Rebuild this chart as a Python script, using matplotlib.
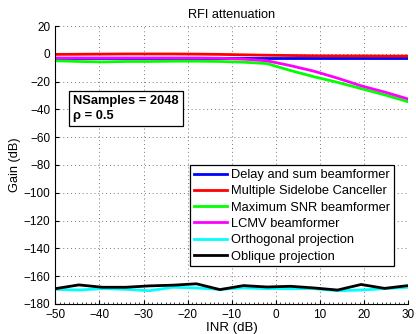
import matplotlib
matplotlib.use("Agg")
import matplotlib.pyplot as plt
from matplotlib.ticker import MultipleLocator

plt.rcParams['font.family'] = ['Liberation Sans', 'DejaVu Sans']

inr = [-50, -44.67, -39.33, -34, -28.67, -23.33, -18, -12.67, -7.33, -2,
       3.33, 8.67, 14, 19.33, 24.67, 30]
delay_sum = [-3.0] * 16
msc = [-0.4, -0.3, -0.2, -0.1, -0.1, -0.1, -0.2, -0.4, -0.7, -1.0,
       -1.2, -1.4, -1.5, -1.5, -1.6, -1.6]
max_snr = [-5.0, -5.5, -5.8, -5.5, -5.5, -5.3, -5.3, -5.5, -6.0, -7.0,
           -12.0, -16.5, -20.5, -25.0, -29.5, -34.5]
lcmv = [-3.0, -3.0, -3.0, -3.0, -3.0, -3.0, -3.0, -3.2, -3.8, -5.0,
        -8.5, -12.5, -17.5, -23.0, -27.5, -32.5]
orth = [-169.5, -170.0, -169.0, -169.5, -170.5, -168.0, -168.5, -169.5, -168.5, -169.0,
        -169.0, -169.0, -170.5, -170.0, -169.0, -168.0]
oblique = [-169.0, -166.3, -168.0, -168.0, -167.0, -166.5, -165.5, -169.7, -166.8, -167.8,
           -167.3, -168.5, -170.0, -166.0, -168.8, -166.8]

labels = ["Delay and sum beamformer", "Multiple Sidelobe Canceller",
          "Maximum SNR beamformer", "LCMV beamformer",
          "Orthogonal projection", "Oblique projection"]
colors = ["#0000ff", "#ff0000", "#00ff00", "#ff00ff", "#00ffff", "#000000"]
series = [delay_sum, msc, max_snr, lcmv, orth, oblique]

fig = plt.figure(figsize=(4.16, 3.34), dpi=100)
ax = fig.add_axes([0.133, 0.090, 0.848, 0.832])

for s, c, l in zip(series, colors, labels):
    ax.plot(inr, s, color=c, lw=2.0, label=l)

ax.set_xlim(-50, 30)
ax.set_ylim(-180, 20)
ax.set_xticks(range(-50, 31, 10))
ax.set_yticks(range(-180, 21, 20))
ax.xaxis.set_minor_locator(MultipleLocator(1))
ax.tick_params(direction='in', labelsize=8.5, length=3, width=0.8)
ax.tick_params(which='minor', direction='in', length=1.5, width=0.5)
ax.grid(True, linestyle=(0, (1, 3)), color='#777777', lw=0.7)
ax.spines['top'].set_visible(False)
ax.spines['right'].set_visible(False)
ax.set_xlabel("INR (dB)", fontsize=9.5, labelpad=1)
ax.set_ylabel("Gain (dB)", fontsize=9.2, labelpad=2)
ax.set_title("RFI attenuation", fontsize=9.2, pad=6)

leg = ax.legend(loc='lower right', bbox_to_anchor=(0.96, 0.135), fontsize=9.3,
                fancybox=False, framealpha=1, edgecolor='black',
                handlelength=2.6, labelspacing=0.33, borderpad=0.3,
                handletextpad=0.3, borderaxespad=0)
leg.get_frame().set_linewidth(0.9)

ax.text(0.05, 0.752, "NSamples = 2048\nρ = 0.5", transform=ax.transAxes,
        fontsize=9.3, fontweight='bold', va='top', ha='left', linespacing=1.3,
        bbox=dict(boxstyle='square,pad=0.33', fc='white', ec='black', lw=0.9))

fig.savefig("out.png", dpi=100)
